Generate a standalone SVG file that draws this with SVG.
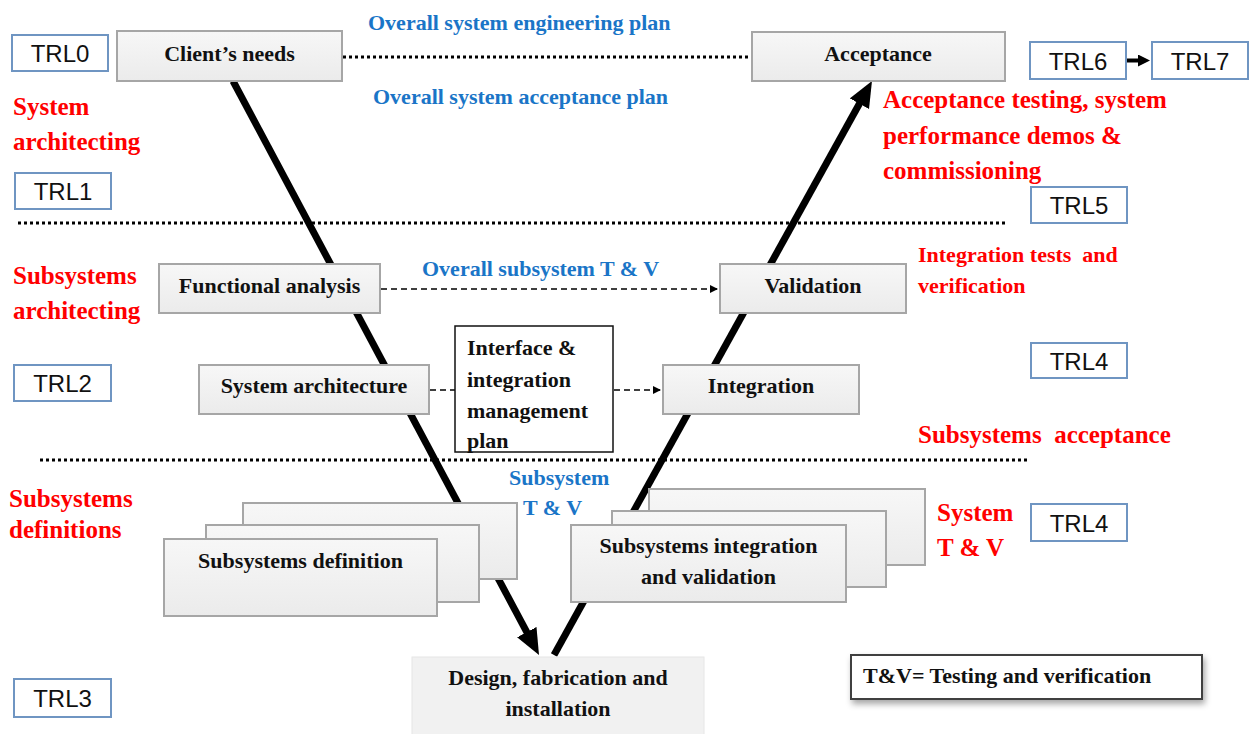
<svg xmlns="http://www.w3.org/2000/svg" width="1249" height="734" viewBox="0 0 1249 734">
<defs>
<style>
.box{fill:url(#g);stroke:#a6a6a6;stroke-width:2}
.trl{fill:#fff;stroke:#6f95c2;stroke-width:2}
.trlt{font-family:"Liberation Sans",Arial,sans-serif;font-size:24px;fill:#111;text-anchor:middle}
.bt{font-family:"Liberation Serif","Times New Roman",serif;font-weight:bold;font-size:22px;fill:#111}
.c{text-anchor:middle}
.red{font-family:"Liberation Serif","Times New Roman",serif;font-weight:bold;font-size:25px;fill:#ff0000}
.red2{font-family:"Liberation Serif","Times New Roman",serif;font-weight:bold;font-size:22px;fill:#ff0000}
.blue{font-family:"Liberation Serif","Times New Roman",serif;font-weight:bold;font-size:22px;fill:#1a75c7}
.dot{stroke:#000;stroke-width:3;stroke-dasharray:3 3;fill:none}
.dash{stroke:#000;stroke-width:1.5;stroke-dasharray:6 4;fill:none}
.v{stroke:#000;stroke-width:7;fill:none}
</style>
<linearGradient id="g" x1="0" y1="0" x2="0" y2="1">
<stop offset="0" stop-color="#f7f7f7"/>
<stop offset="1" stop-color="#ebebeb"/>
</linearGradient>
<marker id="big" markerUnits="userSpaceOnUse" markerWidth="30" markerHeight="26" refX="6" refY="11" orient="auto">
<path d="M0,0 L26,11 L0,22 z" fill="#000"/>
</marker>
<marker id="small" markerUnits="userSpaceOnUse" markerWidth="10" markerHeight="10" refX="8" refY="4" orient="auto">
<path d="M0,0 L8,4 L0,8 z" fill="#000"/>
</marker>
<marker id="mid" markerUnits="userSpaceOnUse" markerWidth="14" markerHeight="14" refX="2" refY="6" orient="auto">
<path d="M0,0 L12,6 L0,12 z" fill="#000"/>
</marker>
<filter id="sh" x="-10%" y="-30%" width="130%" height="180%">
<feDropShadow dx="2" dy="4" stdDeviation="3" flood-color="#000" flood-opacity="0.35"/>
</filter>
</defs>
<rect width="1249" height="734" fill="#fff"/>

<g id="connectors">
<line class="v" x1="233" y1="81" x2="529.6" y2="637.4" marker-end="url(#big)"/>
<line class="v" x1="554" y1="655" x2="862.3" y2="98.5" marker-end="url(#big)"/>
<line class="dot" x1="343" y1="57" x2="750" y2="57"/>
<line class="dot" x1="18" y1="223" x2="1008" y2="223"/>
<line class="dot" x1="40" y1="460" x2="1028" y2="460"/>
<line class="dash" x1="381" y1="289" x2="718" y2="289" marker-end="url(#small)"/>
<line class="dash" x1="430" y1="390" x2="455" y2="390"/>
<line class="dash" x1="614" y1="390" x2="661" y2="390" marker-end="url(#small)"/>
<line x1="1127" y1="60.5" x2="1140" y2="60.5" stroke="#000" stroke-width="4" marker-end="url(#mid)"/>
</g>

<g id="trl0"><rect class="trl" x="12" y="35" width="96" height="36"/><text class="trlt" x="60" y="62">TRL0</text></g>
<g id="trl1"><rect class="trl" x="15" y="173" width="96" height="36"/><text class="trlt" x="63" y="200">TRL1</text></g>
<g id="trl2"><rect class="trl" x="14" y="365" width="97" height="36"/><text class="trlt" x="62.5" y="392">TRL2</text></g>
<g id="trl3"><rect class="trl" x="14" y="679" width="97" height="38"/><text class="trlt" x="62.5" y="707">TRL3</text></g>
<g id="trl6"><rect class="trl" x="1030" y="42" width="96" height="37"/><text class="trlt" x="1078" y="69.5">TRL6</text></g>
<g id="trl7"><rect class="trl" x="1152" y="42" width="96" height="37"/><text class="trlt" x="1200" y="69.5">TRL7</text></g>
<g id="trl5"><rect class="trl" x="1031" y="187" width="96" height="36"/><text class="trlt" x="1079" y="214">TRL5</text></g>
<g id="trl4a"><rect class="trl" x="1031" y="343" width="96" height="35"/><text class="trlt" x="1079" y="369.5">TRL4</text></g>
<g id="trl4b"><rect class="trl" x="1031" y="504" width="96" height="37"/><text class="trlt" x="1079" y="531.5">TRL4</text></g>

<g id="clients-needs"><rect class="box" x="117" y="31" width="225" height="50"/><text class="bt c" x="229.5" y="61">Client’s needs</text></g>
<g id="acceptance"><rect class="box" x="752" y="32" width="253" height="49"/><text class="bt c" x="878" y="61">Acceptance</text></g>
<g id="functional-analysis"><rect class="box" x="159" y="264" width="221" height="49"/><text class="bt c" x="269.5" y="293">Functional analysis</text></g>
<g id="system-architecture"><rect class="box" x="199" y="365" width="230" height="49"/><text class="bt c" x="314" y="393">System architecture</text></g>
<g id="validation"><rect class="box" x="720" y="264" width="186" height="49"/><text class="bt c" x="813" y="293">Validation</text></g>
<g id="integration"><rect class="box" x="663" y="365" width="196" height="49"/><text class="bt c" x="761" y="393">Integration</text></g>
<g id="interface-plan"><rect x="455" y="326" width="158" height="126" fill="#fff" stroke="#111" stroke-width="1.5"/>
<text class="bt" x="467" y="355">Interface &amp;</text>
<text class="bt" x="467" y="387">integration</text>
<text class="bt" x="467" y="418">management</text>
<text class="bt" x="467" y="448">plan</text></g>

<g id="subsystems-definition">
<rect class="box" x="243" y="503" width="274" height="76"/>
<rect class="box" x="206" y="525" width="273" height="77"/>
<rect class="box" x="164" y="539" width="273" height="77"/>
<text class="bt c" x="300.5" y="568">Subsystems definition</text></g>

<g id="subsystems-integration">
<rect class="box" x="649" y="489" width="276" height="76"/>
<rect class="box" x="612" y="511" width="274" height="76"/>
<rect class="box" x="571" y="525" width="275" height="77"/>
<text class="bt c" x="708.5" y="553">Subsystems integration</text>
<text class="bt c" x="708.5" y="584">and validation</text></g>

<g id="design"><rect x="412" y="657" width="292" height="80" fill="#f1f1f1" stroke="#e6e6e6" stroke-width="1"/>
<text class="bt c" x="558" y="685">Design, fabrication and</text>
<text class="bt c" x="558" y="716">installation</text></g>

<g id="legend"><rect x="851" y="655" width="351" height="44" fill="#fff" stroke="#404040" stroke-width="2" filter="url(#sh)"/>
<text class="bt" x="863" y="683">T&amp;V= Testing and verification</text></g>

<g id="labels">
<text class="blue" x="368" y="30">Overall system engineering plan</text>
<text class="blue" x="373" y="104">Overall system acceptance plan</text>
<text class="blue" x="422" y="276">Overall subsystem T &amp; V</text>
<text class="blue" x="509" y="485">Subsystem</text>
<text class="blue" x="523" y="515">T &amp; V</text>

<text class="red" x="13" y="115">System</text>
<text class="red" x="13" y="150">architecting</text>
<text class="red" x="13" y="284">Subsystems</text>
<text class="red" x="13" y="319">architecting</text>
<text class="red" x="9" y="507">Subsystems</text>
<text class="red" x="9" y="538">definitions</text>
<text class="red" x="883" y="108">Acceptance testing, system</text>
<text class="red" x="883" y="143.5">performance demos &amp;</text>
<text class="red" x="883" y="179">commissioning</text>
<text class="red2" x="918" y="262" xml:space="preserve">Integration tests  and</text>
<text class="red2" x="918" y="293">verification</text>
<text class="red" x="918" y="443" xml:space="preserve">Subsystems  acceptance</text>
<text class="red" x="937" y="521">System</text>
<text class="red" x="937" y="556">T &amp; V</text>
</g>
</svg>
